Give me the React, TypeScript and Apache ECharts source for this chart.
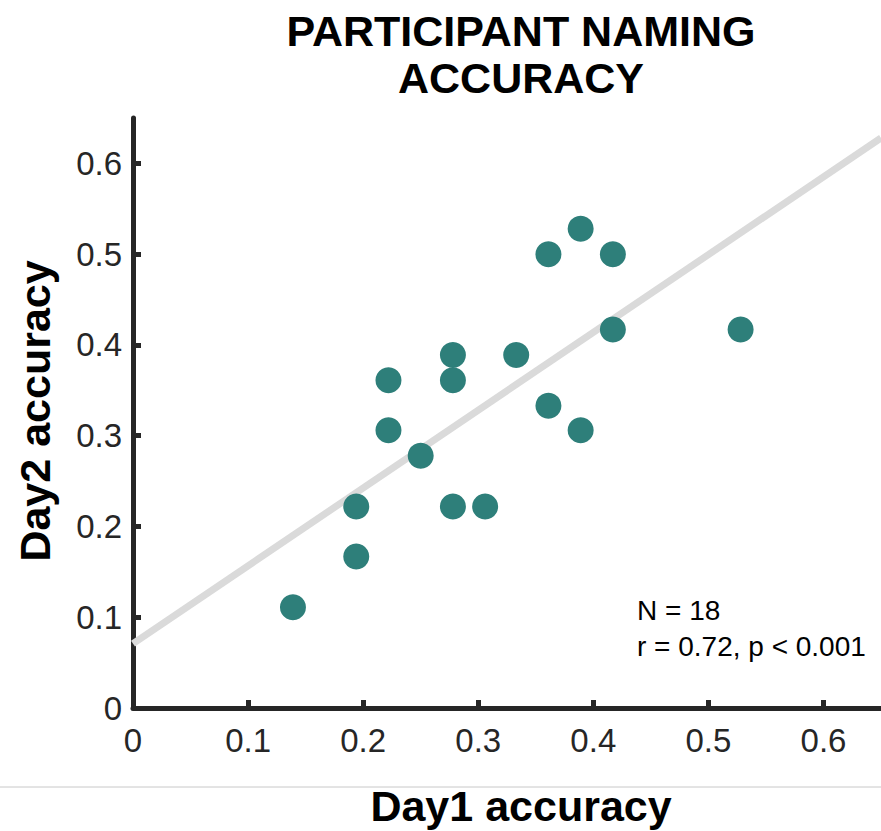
import React, { useEffect, useRef } from "react";
import * as echarts from "echarts";

const day1Accuracy = [0.139, 0.194, 0.194, 0.222, 0.222, 0.25, 0.278, 0.278, 0.278, 0.306, 0.333, 0.361, 0.361, 0.389, 0.389, 0.417, 0.417, 0.528];
const day2Accuracy = [0.111, 0.222, 0.167, 0.361, 0.306, 0.278, 0.389, 0.361, 0.222, 0.222, 0.389, 0.5, 0.333, 0.528, 0.306, 0.5, 0.417, 0.417];
const fitLineX = [0, 0.65];
const fitLineY = [0.071, 0.628];
const tickValues = [0, 0.1, 0.2, 0.3, 0.4, 0.5, 0.6];
const titleLines = ["PARTICIPANT NAMING", "ACCURACY"];
const xLabel = "Day1 accuracy";
const yLabel = "Day2 accuracy";
const statsLines = ["N = 18", "r = 0.72, p < 0.001"];

const FONT = "'Liberation Sans', Arial, Helvetica, sans-serif";
const AXIS_COLOR = "#262626";

export default function App() {
  const ref = useRef<HTMLDivElement>(null);
  useEffect(() => {
    if (!ref.current) return;
    const chart = echarts.init(ref.current, null, { renderer: "svg" });
    const points = day1Accuracy.map((x, i) => [x, day2Accuracy[i]]);
    const fit = fitLineX.map((x, i) => [x, fitLineY[i]]);
    const axisCommon = {
      type: "value" as const,
      min: 0,
      max: 0.65,
      interval: 0.1,
      splitLine: { show: false },
      axisLine: { show: true, lineStyle: { color: AXIS_COLOR, width: 5 } },
      axisTick: {
        show: true,
        inside: true,
        length: 8,
        lineStyle: { color: AXIS_COLOR, width: 5 },
        customValues: tickValues,
      },
      axisLabel: {
        fontFamily: FONT,
        fontSize: 33,
        color: AXIS_COLOR,
        customValues: tickValues,
        formatter: (v: number) => (Math.round(v * 10) / 10).toString(),
      },
    };
    chart.setOption({
      animation: false,
      backgroundColor: "#ffffff",
      grid: { left: 133, right: -1, top: 118, bottom: 123, containLabel: false },
      xAxis: { ...axisCommon, axisLabel: { ...axisCommon.axisLabel, margin: 16 } },
      yAxis: { ...axisCommon, axisLabel: { ...axisCommon.axisLabel, margin: 11 } },
      series: [
        {
          type: "line",
          data: fit,
          showSymbol: false,
          symbol: "none",
          lineStyle: { color: "#dadada", width: 7 },
          z: 1,
          silent: true,
        },
        {
          type: "scatter",
          data: points,
          symbol: "circle",
          symbolSize: 26,
          itemStyle: { color: "#2e7f7a", opacity: 1 },
          z: 3,
        },
      ],
      graphic: [
        {
          type: "text",
          x: 521,
          y: 31,
          style: { text: titleLines[0], font: `bold 43px ${FONT}`, fill: "#000", align: "center", verticalAlign: "middle" },
        },
        {
          type: "text",
          x: 521,
          y: 78,
          style: { text: titleLines[1], font: `bold 43px ${FONT}`, fill: "#000", align: "center", verticalAlign: "middle" },
        },
        {
          type: "text",
          x: 521,
          y: 806,
          style: { text: xLabel, font: `bold 43px ${FONT}`, fill: "#000", align: "center", verticalAlign: "middle" },
        },
        {
          type: "text",
          x: 35,
          y: 411,
          rotation: Math.PI / 2,
          style: { text: yLabel, font: `bold 43px ${FONT}`, fill: "#000", align: "center", verticalAlign: "middle" },
        },
        {
          type: "text",
          x: 637,
          y: 610,
          style: { text: statsLines[0], font: `28px ${FONT}`, fill: "#000", align: "left", verticalAlign: "middle" },
        },
        {
          type: "text",
          x: 637,
          y: 646,
          style: { text: statsLines[1], font: `28px ${FONT}`, fill: "#000", align: "left", verticalAlign: "middle" },
        },
        {
          type: "line",
          shape: { x1: 0, y1: 787, x2: 881, y2: 787 },
          style: { stroke: "#c8c8c8", lineWidth: 1 },
        },
      ],
    });
    return () => chart.dispose();
  }, []);
  return <div ref={ref} style={{ width: 881, height: 831, position: "absolute", left: 0, top: 0 }} />;
}
